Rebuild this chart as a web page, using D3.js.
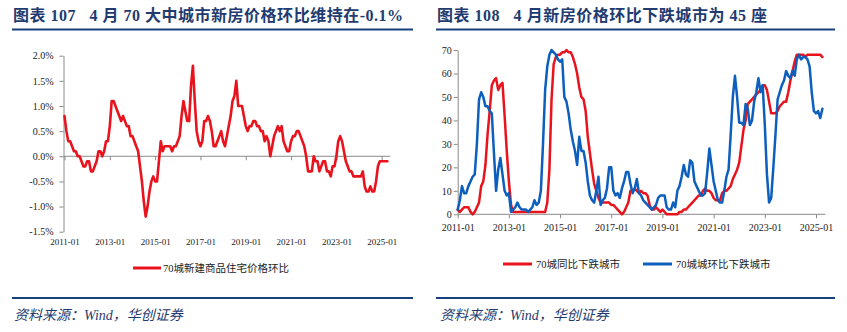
<!DOCTYPE html>
<html><head><meta charset="utf-8">
<script src="https://cdn.jsdelivr.net/npm/d3@7"></script>
<style>
body{margin:0;background:#fff;}
svg{display:block;}
</style></head>
<body>
<svg id="c" width="847" height="332"></svg>
<script>
// ---------- DATA ----------
const startYear = 2011;
const xTickLabels = ["2011-01","2013-01","2015-01","2017-01","2019-01","2021-01","2023-01","2025-01"];
const leftYTicks = [-1.5,-1.0,-0.5,0.0,0.5,1.0,1.5,2.0];
const rightYTicks = [0,10,20,30,40,50,60,70];

// 70城新建商品住宅价格环比 (%), 2011-01 .. 2025-04
const priceMoM = [
 0.8,0.5,0.3,0.3,0.2,0.1,0.1,0.0,0.0,-0.1,-0.2,-0.2,
 -0.1,-0.1,-0.3,-0.3,-0.2,-0.1,0.1,0.1,0.0,0.1,0.3,0.3,
 0.6,1.1,1.1,1.0,0.9,0.8,0.7,0.8,0.7,0.6,0.6,0.4,
 0.4,0.3,0.2,0.1,-0.2,-0.5,-0.9,-1.2,-1.0,-0.7,-0.5,-0.4,
 -0.5,-0.5,-0.1,0.3,0.1,0.2,0.2,0.2,0.2,0.1,0.2,0.2,
 0.3,0.4,0.8,1.1,0.9,0.7,0.7,1.4,1.8,1.1,0.5,0.3,
 0.2,0.3,0.7,0.7,0.8,0.7,0.5,0.2,0.2,0.3,0.4,0.5,
 0.3,0.2,0.4,0.6,0.8,1.1,1.2,1.5,1.0,1.0,1.0,0.8,
 0.6,0.5,0.6,0.6,0.7,0.7,0.6,0.6,0.5,0.5,0.3,0.4,
 0.3,0.0,0.2,0.4,0.5,0.6,0.5,0.6,0.3,0.2,0.1,0.1,
 0.3,0.4,0.4,0.5,0.5,0.4,0.3,0.2,0.0,-0.3,-0.3,-0.3,
 0.0,-0.1,-0.1,-0.3,-0.2,-0.1,-0.1,-0.3,-0.3,-0.4,-0.2,-0.2,
 0.0,0.3,0.4,0.3,0.1,-0.1,-0.2,-0.3,-0.3,-0.4,-0.4,-0.4,
 -0.4,-0.4,-0.3,-0.6,-0.7,-0.7,-0.6,-0.7,-0.7,-0.5,-0.2,-0.1,
 -0.1,-0.1,-0.1,-0.1
];

// 70城同比下跌城市 (count)
const yoyDown = [
 2,1,2,3,3,3,1,0,1,3,5,12,
 14,21,34,44,55,57,58,53,55,56,42,27,
 14,4,1,1,1,1,1,1,1,1,1,1,
 1,1,1,1,1,1,5,19,49,64,67,68,
 68,69,69,70,69,69,67,64,60,54,50,49,
 44,33,26,19,13,10,7,5,5,5,5,5,
 4,4,3,2,1,0,1,3,5,10,10,11,
 10,9,10,9,9,8,4,2,2,3,2,1,
 2,1,0,0,0,0,0,0,1,1,2,2,
 3,4,5,6,7,8,8,10,11,10,10,9,
 7,6,6,6,9,10,10,11,12,15,17,19,
 22,29,36,40,47,48,49,50,51,52,53,55,
 55,53,48,43,43,43,44,46,47,48,48,52,
 57,61,65,68,68,68,68,67,68,68,68,68,
 68,68,68,67
];

// 70城城环比下跌城市 (count)
const momDown = [
 2,6,12,9,9,12,14,16,17,30,49,52,
 50,46,46,44,43,26,10,19,24,17,10,8,
 9,1,2,3,5,3,2,2,2,1,2,3,
 6,4,5,10,30,53,63,68,70,69,68,66,
 65,66,50,48,43,36,31,27,21,33,27,27,
 22,14,8,6,5,10,16,4,6,7,11,20,
 20,10,8,9,7,11,14,18,18,13,9,11,
 15,9,8,6,5,4,3,2,3,4,7,8,
 8,8,3,2,2,5,3,10,12,16,21,17,
 16,23,22,14,12,10,8,8,9,18,28,21,
 14,10,6,5,5,10,16,19,34,50,59,50,
 39,39,38,47,45,38,40,48,52,58,52,55,
 38,17,5,7,20,34,49,52,55,57,61,59,
 58,61,59,66,68,66,67,67,66,63,52,44,
 43,44,41,45
];

const leftTitle = "图表 107   4 月 70 大中城市新房价格环比维持在-0.1%";
const rightTitle = "图表 108   4 月新房价格环比下跌城市为 45 座";
const leftLegend = ["70城新建商品住宅价格环比"];
const rightLegend = ["70城同比下跌城市","70城城环比下跌城市"];
const sourceText = "资料来源：Wind，华创证券";

// ---------- STYLE ----------
const NAVY = "#1F3B6F", LINE_NAVY = "#17407F";
const RED = "#E8131D", BLUE = "#0D5FBE";
const AXIS = "#8a8a8a", LABEL = "#222";
const SERIF = '"Liberation Serif","Times New Roman",serif';
const MIX = '"Liberation Serif","Noto Sans CJK SC",serif';

const svg = d3.select("#c");
svg.append("rect").attr("width",847).attr("height",332).attr("fill","#fff");

const tickIndex = s => { const [y,m] = s.split("-").map(Number); return (y-startYear)*12 + (m-1); };

// ---------- headers / footers ----------
function header(x, w, title, lineX, lineW) {
  svg.append("text").attr("x", x).attr("y", 21)
    .attr("font-family", MIX).attr("font-weight", "bold").attr("font-size", 16)
    .attr("fill", NAVY).attr("textLength", w).attr("lengthAdjust", "spacing")
    .attr("xml:space","preserve").style("white-space","pre")
    .text(title);
  svg.append("rect").attr("x", lineX).attr("y", 28.5).attr("width", lineW).attr("height", 2).attr("fill", LINE_NAVY);
  svg.append("rect").attr("x", lineX).attr("y", 297).attr("width", lineW).attr("height", 2).attr("fill", LINE_NAVY);
}
header(13, 390, leftTitle, 12, 401);
header(437, 330, rightTitle, 436, 399);

[14, 440].forEach(x => {
  svg.append("text").attr("x", x).attr("y", 320)
    .attr("font-family", MIX).attr("font-style", "italic").attr("font-size", 14)
    .attr("fill", NAVY).text(sourceText);
});

// ---------- LEFT CHART ----------
const n = priceMoM.length;
const xL = d3.scaleLinear().domain([0, 168]).range([64.5, 381.7]);
const yL = d3.scaleLinear().domain([-1.5, 2.0]).range([231.7, 55.7]);

const gL = svg.append("g");
const yAxisL = gL.append("g").attr("transform", "translate(63.5,0)")
  .call(d3.axisLeft(yL).tickValues(leftYTicks).tickSize(4).tickSizeOuter(0).tickPadding(6)
        .tickFormat(d => d.toFixed(1) + "%"));
// zero line / x axis
const xAxisL = gL.append("g").attr("transform", `translate(0,${yL(0)})`)
  .call(d3.axisBottom(xL).tickValues(xTickLabels.map(tickIndex)).tickSize(4).tickSizeOuter(0).tickFormat(""));
xAxisL.select(".domain").attr("d", `M63.5,0H${xL(n-1)+3}`);
const xLabL = gL.append("g").attr("transform", `translate(0,${yL(-1.5)})`)
  .call(d3.axisBottom(xL).tickValues(xTickLabels.map(tickIndex)).tickSize(0).tickPadding(7)
        .tickFormat((d,i) => xTickLabels[i]));
xLabL.select(".domain").remove();
[yAxisL, xAxisL].forEach(a => { a.selectAll("path,line").attr("stroke", AXIS); });
yAxisL.selectAll("text").attr("font-family", SERIF).attr("font-size", 10).attr("fill", LABEL);
xLabL.selectAll("text").attr("font-family", SERIF).attr("font-size", 9).attr("fill", LABEL);

gL.append("path").datum(priceMoM)
  .attr("fill", "none").attr("stroke", RED).attr("stroke-width", 2.6)
  .attr("stroke-linejoin", "round").attr("stroke-linecap", "round")
  .attr("d", d3.line().x((d,i) => xL(i)).y(d => yL(d)));

// left legend
svg.append("line").attr("x1", 133).attr("x2", 161).attr("y1", 268).attr("y2", 268)
  .attr("stroke", RED).attr("stroke-width", 3);
svg.append("text").attr("x", 163).attr("y", 271.5).attr("font-family", MIX).attr("font-size", 10.5)
  .attr("fill", LABEL).text(leftLegend[0]);

// ---------- RIGHT CHART ----------
const xR = d3.scaleLinear().domain([0, 168]).range([457.7, 816]);
const yR = d3.scaleLinear().domain([0, 70]).range([214.3, 50]);
const gR = svg.append("g");
const yAxisR = gR.append("g").attr("transform", "translate(457.7,0)")
  .call(d3.axisLeft(yR).tickValues(rightYTicks).tickSize(4).tickSizeOuter(0).tickPadding(2));
const xAxisR = gR.append("g").attr("transform", `translate(0,${yR(0)})`)
  .call(d3.axisBottom(xR).tickValues(xTickLabels.map(tickIndex)).tickSize(4).tickSizeOuter(0).tickPadding(6)
        .tickFormat((d,i) => xTickLabels[i]));
xAxisR.select(".domain").attr("d", `M457.7,0H${xR(n-1)+3}`);
[yAxisR, xAxisR].forEach(a => {
  a.selectAll("path,line").attr("stroke", AXIS);
  a.selectAll("text").attr("font-family", SERIF).attr("font-size", 10).attr("fill", LABEL);
});

const lineR = d3.line().x((d,i) => xR(i)).y(d => yR(d));
[[yoyDown, RED], [momDown, BLUE]].forEach(([data, c]) => {
  gR.append("path").datum(data).attr("fill", "none").attr("stroke", c).attr("stroke-width", 2.5)
    .attr("stroke-linejoin", "round").attr("stroke-linecap", "round").attr("d", lineR);
});

// right legend
[[503, RED, rightLegend[0]], [643, BLUE, rightLegend[1]]].forEach(([x, c, t]) => {
  svg.append("line").attr("x1", x).attr("x2", x + 29).attr("y1", 264).attr("y2", 264)
    .attr("stroke", c).attr("stroke-width", 3);
  svg.append("text").attr("x", x + 33).attr("y", 267.5).attr("font-family", MIX).attr("font-size", 10.5)
    .attr("fill", LABEL).text(t);
});
</script>
</body></html>
